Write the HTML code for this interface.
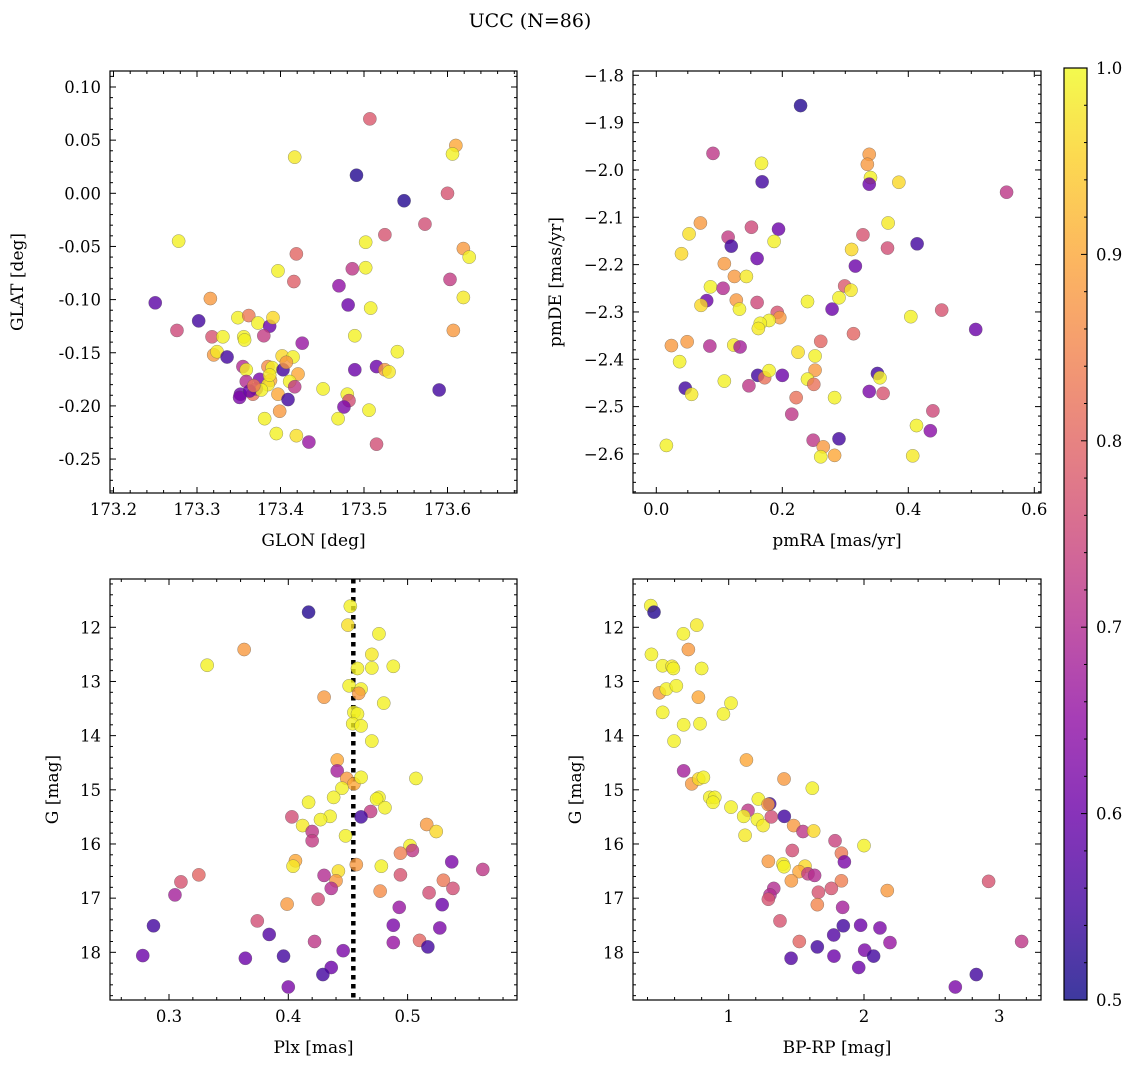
<!DOCTYPE html>
<html><head><meta charset="utf-8"><style>
html,body{margin:0;padding:0;background:#fff;}
svg{display:block;font-family:"DejaVu Serif","Liberation Serif",serif;}
</style></head><body>
<svg id="fig" width="1136" height="1068" viewBox="0 0 1136 1068">
<text x="530" y="27" text-anchor="middle" font-size="19">UCC (N=86)</text>
</svg>
<script>
// ---------- data ----------
const p1Glon=[173.507,173.610,173.606,173.417,173.491,173.548,173.600,173.573,173.525,173.502,173.278,173.619,173.626,173.419,173.397,173.502,173.486,173.416,173.603,173.470,173.619,173.316,173.250,173.481,173.508,173.302,173.276,173.607,173.349,173.362,173.373,173.387,173.391,173.318,173.331,173.356,173.357,173.380,173.426,173.489,173.540,173.320,173.324,173.336,173.402,173.415,173.355,173.359,173.385,173.390,173.403,173.407,173.421,173.411,173.417,173.489,173.515,173.525,173.530,173.590,173.359,173.375,173.388,173.385,173.352,173.351,173.367,173.371,173.377,173.397,173.409,173.451,173.480,173.482,173.476,173.399,173.506,173.381,173.469,173.395,173.419,173.434,173.515,173.363,173.368,173.387];
const p1Glat=[0.070,0.045,0.037,0.034,0.017,-0.007,0.000,-0.029,-0.039,-0.046,-0.045,-0.052,-0.060,-0.057,-0.073,-0.070,-0.071,-0.083,-0.081,-0.087,-0.098,-0.099,-0.103,-0.105,-0.108,-0.120,-0.129,-0.129,-0.117,-0.115,-0.122,-0.125,-0.117,-0.135,-0.135,-0.135,-0.138,-0.134,-0.141,-0.134,-0.149,-0.152,-0.149,-0.154,-0.153,-0.154,-0.163,-0.166,-0.163,-0.164,-0.166,-0.159,-0.170,-0.177,-0.182,-0.166,-0.163,-0.166,-0.168,-0.185,-0.177,-0.175,-0.176,-0.180,-0.189,-0.192,-0.189,-0.184,-0.185,-0.189,-0.194,-0.184,-0.189,-0.195,-0.201,-0.205,-0.204,-0.212,-0.212,-0.226,-0.228,-0.234,-0.236,-0.186,-0.181,-0.171];
const p1Prob=[0.78,0.9,0.99,0.98,0.52,0.52,0.77,0.76,0.77,0.99,0.99,0.88,0.99,0.8,0.99,0.99,0.72,0.79,0.73,0.65,0.98,0.88,0.58,0.6,0.99,0.55,0.75,0.88,0.99,0.83,0.99,0.6,0.96,0.77,0.99,0.99,0.99,0.73,0.66,0.99,0.99,0.88,0.98,0.55,0.96,0.99,0.7,0.99,0.86,0.99,0.55,0.88,0.9,0.99,0.72,0.6,0.6,0.88,0.98,0.55,0.7,0.62,0.9,0.98,0.6,0.62,0.82,0.68,0.99,0.9,0.55,0.99,0.99,0.76,0.62,0.88,0.99,0.99,0.99,0.99,0.97,0.66,0.76,0.6,0.83,0.98];

const p2Pmra=[0.229,0.090,0.167,0.168,0.338,0.335,0.340,0.338,0.385,0.556,0.070,0.052,0.040,0.151,0.194,0.114,0.119,0.187,0.160,0.108,0.124,0.143,0.086,0.106,0.080,0.071,0.127,0.132,0.160,0.192,0.196,0.179,0.165,0.162,0.240,0.279,0.299,0.309,0.290,0.310,0.316,0.328,0.368,0.367,0.414,0.404,0.453,0.507,0.024,0.049,0.085,0.123,0.133,0.037,0.225,0.252,0.261,0.313,0.046,0.056,0.108,0.147,0.161,0.172,0.179,0.200,0.252,0.240,0.250,0.351,0.355,0.338,0.360,0.222,0.283,0.215,0.439,0.413,0.435,0.249,0.290,0.265,0.261,0.283,0.407,0.016];
const p2Pmde=[-1.864,-1.965,-1.986,-2.025,-1.967,-1.988,-2.016,-2.030,-2.026,-2.047,-2.112,-2.135,-2.177,-2.121,-2.125,-2.142,-2.161,-2.151,-2.187,-2.198,-2.225,-2.225,-2.247,-2.250,-2.276,-2.286,-2.275,-2.294,-2.280,-2.301,-2.312,-2.318,-2.324,-2.335,-2.278,-2.294,-2.245,-2.254,-2.270,-2.168,-2.203,-2.137,-2.112,-2.165,-2.156,-2.310,-2.296,-2.337,-2.371,-2.363,-2.372,-2.370,-2.374,-2.405,-2.385,-2.393,-2.362,-2.346,-2.461,-2.474,-2.446,-2.456,-2.434,-2.439,-2.424,-2.434,-2.423,-2.442,-2.453,-2.430,-2.439,-2.468,-2.472,-2.481,-2.481,-2.516,-2.509,-2.540,-2.551,-2.571,-2.568,-2.585,-2.606,-2.603,-2.604,-2.582];
const p2Prob=[0.52,0.72,0.99,0.55,0.88,0.88,0.99,0.6,0.96,0.72,0.88,0.97,0.96,0.75,0.6,0.73,0.55,0.99,0.6,0.88,0.88,0.98,0.99,0.7,0.6,0.96,0.88,0.99,0.75,0.77,0.88,0.99,0.99,0.98,0.99,0.6,0.78,0.98,0.99,0.96,0.6,0.77,0.98,0.76,0.55,0.99,0.77,0.6,0.88,0.88,0.7,0.98,0.68,0.99,0.97,0.99,0.8,0.8,0.55,0.98,0.99,0.72,0.55,0.82,0.99,0.6,0.88,0.99,0.82,0.55,0.99,0.62,0.77,0.82,0.99,0.72,0.75,0.99,0.64,0.72,0.55,0.88,0.99,0.9,0.98,0.99];

const p3Plx=[0.417,0.452,0.450,0.476,0.363,0.332,0.470,0.458,0.470,0.488,0.451,0.461,0.459,0.430,0.480,0.455,0.458,0.454,0.461,0.470,0.441,0.441,0.449,0.455,0.461,0.507,0.445,0.438,0.417,0.476,0.474,0.481,0.469,0.461,0.435,0.427,0.403,0.412,0.420,0.420,0.448,0.516,0.524,0.502,0.504,0.494,0.537,0.563,0.406,0.404,0.457,0.478,0.442,0.430,0.440,0.436,0.494,0.530,0.538,0.518,0.477,0.325,0.310,0.305,0.399,0.425,0.493,0.529,0.374,0.287,0.488,0.527,0.384,0.422,0.488,0.510,0.517,0.278,0.364,0.396,0.446,0.436,0.429,0.400];
const p3G=[11.72,11.61,11.96,12.12,12.41,12.70,12.50,12.76,12.75,12.72,13.08,13.14,13.22,13.29,13.40,13.57,13.60,13.78,13.82,14.10,14.45,14.65,14.79,14.89,14.77,14.79,14.97,15.14,15.23,15.14,15.17,15.33,15.40,15.50,15.49,15.55,15.50,15.66,15.77,15.94,15.85,15.64,15.77,16.03,16.12,16.17,16.33,16.47,16.31,16.41,16.38,16.41,16.50,16.58,16.68,16.82,16.57,16.67,16.82,16.90,16.87,16.57,16.70,16.94,17.11,17.02,17.17,17.12,17.42,17.51,17.50,17.55,17.67,17.80,17.82,17.78,17.90,18.06,18.11,18.07,17.97,18.28,18.41,18.64];
const p3Prob=[0.52,0.99,0.97,0.99,0.88,0.99,0.98,0.99,0.99,0.99,0.99,0.99,0.88,0.88,0.99,0.99,0.99,0.99,0.99,0.99,0.9,0.68,0.88,0.9,0.99,0.99,0.99,0.99,0.99,0.99,0.99,0.99,0.73,0.55,0.99,0.99,0.76,0.98,0.72,0.73,0.99,0.88,0.96,0.99,0.72,0.84,0.62,0.72,0.9,0.98,0.88,0.99,0.97,0.7,0.88,0.7,0.77,0.83,0.76,0.76,0.86,0.8,0.77,0.68,0.88,0.76,0.66,0.6,0.76,0.55,0.62,0.62,0.57,0.72,0.66,0.8,0.55,0.6,0.6,0.55,0.62,0.6,0.55,0.62];
const plxLine=0.4545;

const p4Bprp=[0.424,0.448,0.764,0.665,0.702,0.429,0.512,0.581,0.591,0.800,0.488,0.539,0.613,0.776,1.017,0.961,0.512,0.667,0.788,0.596,1.131,0.667,0.727,0.778,0.813,1.409,1.618,0.860,0.897,0.884,1.017,1.219,1.303,1.291,1.143,1.111,1.212,1.254,1.315,1.411,1.480,1.549,1.628,1.121,1.786,2.000,1.470,1.833,1.855,1.293,1.401,1.409,1.564,1.520,1.586,1.635,1.463,1.833,2.172,2.921,1.333,1.305,1.293,1.663,1.759,1.655,1.842,1.379,1.847,1.975,2.118,1.776,1.522,2.192,3.165,1.655,1.461,1.778,2.005,2.071,1.961,2.830,2.675];
const p4G=[11.60,11.72,11.96,12.12,12.41,12.50,12.71,12.72,12.76,12.76,13.21,13.14,13.08,13.29,13.40,13.60,13.57,13.80,13.78,14.10,14.45,14.65,14.89,14.80,14.77,14.80,14.97,15.14,15.14,15.23,15.32,15.17,15.26,15.27,15.38,15.49,15.55,15.66,15.50,15.49,15.66,15.77,15.76,15.84,15.94,16.03,16.12,16.17,16.33,16.32,16.37,16.42,16.41,16.51,16.55,16.58,16.68,16.68,16.86,16.69,16.82,16.94,17.02,16.89,16.82,17.12,17.17,17.42,17.51,17.50,17.55,17.68,17.80,17.82,17.80,17.90,18.11,18.07,17.96,18.07,18.28,18.41,18.64];
const p4Prob=[0.99,0.52,0.98,0.99,0.88,0.99,0.99,0.98,0.99,0.99,0.88,0.99,0.99,0.9,0.99,0.99,0.99,0.99,0.99,0.99,0.9,0.68,0.88,0.96,0.99,0.88,0.99,0.99,0.99,0.99,0.99,0.99,0.55,0.88,0.72,0.99,0.99,0.98,0.76,0.55,0.88,0.72,0.96,0.98,0.74,0.99,0.76,0.83,0.62,0.88,0.98,0.99,0.96,0.9,0.73,0.7,0.88,0.84,0.88,0.77,0.7,0.7,0.77,0.77,0.77,0.85,0.68,0.77,0.55,0.6,0.62,0.57,0.8,0.66,0.72,0.55,0.57,0.6,0.62,0.55,0.6,0.55,0.62];

const xTicks1=[173.2,173.3,173.4,173.5,173.6];
const yTicks1=[0.10,0.05,0.00,-0.05,-0.10,-0.15,-0.20,-0.25];
const xTicks2=[0.0,0.2,0.4,0.6];
const yTicks2=[-1.8,-1.9,-2.0,-2.1,-2.2,-2.3,-2.4,-2.5,-2.6];
const xTicks3=[0.3,0.4,0.5];
const xTicks4=[1,2,3];
const gTicks=[12,13,14,15,16,17,18];
const cbTicks=[0.5,0.6,0.7,0.8,0.9,1.0];

// ---------- helpers ----------
const NS="http://www.w3.org/2000/svg";
const svg=document.getElementById('fig');
function mk(tag,attrs,parent){const e=document.createElementNS(NS,tag);for(const k in attrs)e.setAttribute(k,attrs[k]);(parent||svg).appendChild(e);return e;}
const stops=[[0,[13,8,135]],[0.1,[65,4,157]],[0.2,[106,0,168]],[0.3,[143,13,164]],[0.4,[177,42,144]],[0.5,[204,71,120]],[0.6,[225,100,98]],[0.7,[242,132,75]],[0.8,[252,166,54]],[0.9,[252,206,37]],[1,[240,249,33]]];
function plasma(t){t=Math.max(0,Math.min(1,t));for(let i=1;i<stops.length;i++){if(t<=stops[i][0]){const a=stops[i-1],b=stops[i];const f=(t-a[0])/(b[0]-a[0]);const c=a[1].map((v,j)=>Math.round(v+(b[1][j]-v)*f));return `rgb(${c[0]},${c[1]},${c[2]})`;}}return 'rgb(240,249,33)';}
function cnorm(p){return (p-0.5)/0.5;}

function panel(cfg){
  const g=mk('g',{});
  
  
  const {L,R,T,B}=cfg;
  const tg=mk('g',{stroke:'#000','stroke-width':1},g);
  for(let v=cfg.xMin;v<=cfg.xMax+1e-9;v+=cfg.xMinor){const x=cfg.sx(v);if(x<L-0.5||x>R+0.5)continue;
    const isMaj=cfg.xTicks.some(t=>Math.abs(t-v)<1e-6);const len=isMaj?6:3;
    mk('line',{x1:x,x2:x,y1:B,y2:B-len},tg);mk('line',{x1:x,x2:x,y1:T,y2:T+len},tg);}
  for(let v=cfg.yMin;v<=cfg.yMax+1e-9;v+=cfg.yMinor){const y=cfg.sy(v);if(y<T-0.5||y>B+0.5)continue;
    const isMaj=cfg.yTicks.some(t=>Math.abs(t-v)<1e-6);const len=isMaj?6:3;
    mk('line',{x1:L,x2:L+len,y1:y,y2:y},tg);mk('line',{x1:R,x2:R-len,y1:y,y2:y},tg);}
  cfg.xTicks.forEach(t=>{const e=mk('text',{x:cfg.sx(t),y:B+22,'text-anchor':'middle','font-size':16.5},g);e.textContent=cfg.xFmt(t);
    
    });
  cfg.yTicks.forEach(t=>{const e=mk('text',{x:L-9,y:cfg.sy(t)+6,'text-anchor':'end','font-size':16.5},g);e.textContent=cfg.yFmt(t);
    
    });
  const xl=mk('text',{x:(L+R)/2,y:B+53,'text-anchor':'middle','font-size':17},g);xl.textContent=cfg.xLabel;
  
  
  const yx=cfg.yLabelX;const yy=(T+B)/2;
  const yl=mk('text',{x:yx,y:yy,'text-anchor':'middle','font-size':17,transform:`rotate(-90 ${yx} ${yy})`},g);yl.textContent=cfg.yLabel;
  
  
  const cid='clip'+cfg.name;const cp=mk('clipPath',{id:cid},g);mk('rect',{x:L,y:T,width:R-L,height:B-T},cp);
  const pg=mk('g',{'clip-path':`url(#${cid})`},g);
  if(cfg.extra)cfg.extra(pg);
  cfg.xs.forEach((xv,i)=>{const c=mk('circle',{cx:cfg.sx(xv),cy:cfg.sy(cfg.ys[i]),r:6.6,fill:plasma(cnorm(cfg.ps[i])),'fill-opacity':0.8,stroke:'#555','stroke-opacity':0.6,'stroke-width':0.5},pg);
    
    });
  const fr=mk('rect',{x:L,y:T,width:R-L,height:B-T,fill:'none',stroke:'#000','stroke-width':1.2},g);
  
  
}

panel({name:'glon-glat-panel',L:110,R:517,T:71,B:493,
  sx:v=>113.5+(v-173.2)*835, sy:v=>87+(0.10-v)*1063,
  xMin:173.2,xMax:173.68,xMinor:0.02,yMin:-0.28,yMax:0.11,yMinor:0.01,
  xTicks:xTicks1,yTicks:yTicks1,xFmt:t=>t.toFixed(1),yFmt:t=>t.toFixed(2),
  xLabel:'GLON [deg]',yLabel:'GLAT [deg]',yLabelX:23,xs:p1Glon,ys:p1Glat,ps:p1Prob});
panel({name:'pmra-pmde-panel',L:633,R:1041,T:71,B:493,
  sx:v=>656.3+v*630, sy:v=>75.3+(-1.8-v)*473.3,
  xMin:-0.05,xMax:0.65,xMinor:0.05,yMin:-2.7,yMax:-1.78,yMinor:0.02,
  xTicks:xTicks2,yTicks:yTicks2,xFmt:t=>t.toFixed(1),yFmt:t=>'\u2212'+Math.abs(t).toFixed(1),
  xLabel:'pmRA [mas/yr]',yLabel:'pmDE [mas/yr]',yLabelX:561,xs:p2Pmra,ys:p2Pmde,ps:p2Prob});
panel({name:'plx-g-panel',L:110,R:517,T:579,B:1000,
  sx:v=>169+(v-0.3)*1193, sy:v=>627.3+(v-12)*54.17,
  xMin:0.24,xMax:0.6,xMinor:0.02,yMin:11,yMax:19,yMinor:0.2,
  xTicks:xTicks3,yTicks:gTicks,xFmt:t=>t.toFixed(1),yFmt:t=>String(t),
  xLabel:'Plx [mas]',yLabel:'G [mag]',yLabelX:58,xs:p3Plx,ys:p3G,ps:p3Prob,
  extra:pg=>{const x=169+(plxLine-0.3)*1193;const l=mk('line',{x1:x,x2:x,y1:579,y2:1000,stroke:'#000','stroke-width':4.5,'stroke-dasharray':'4.5 4.5'},pg);
    
    }});
panel({name:'color-magnitude-panel',L:633,R:1041,T:579,B:1000,
  sx:v=>728.7+(v-1)*135.3, sy:v=>627.3+(v-12)*54.17,
  xMin:0.2,xMax:3.4,xMinor:0.2,yMin:11,yMax:19,yMinor:0.2,
  xTicks:xTicks4,yTicks:gTicks,xFmt:t=>String(t),yFmt:t=>String(t),
  xLabel:'BP-RP [mag]',yLabel:'G [mag]',yLabelX:581,xs:p4Bprp,ys:p4G,ps:p4Prob});

(function(){
  const L=1064,R=1087,T=68,B=1000;
  const cb=mk('g',{});
  
  
  const defs=mk('defs',{},cb);const lg=mk('linearGradient',{id:'cbg',x1:0,y1:1,x2:0,y2:0},defs);
  for(let i=0;i<=20;i++){const t=i/20;mk('stop',{offset:t,'stop-color':plasma(t),'stop-opacity':0.8},lg);}
  mk('rect',{x:L,y:T,width:R-L,height:B-T,fill:'url(#cbg)'},cb);
  mk('rect',{x:L,y:T,width:R-L,height:B-T,fill:'none',stroke:'#000','stroke-width':1.2},cb);
  const sy=v=>B-(v-0.5)/0.5*(B-T);
  for(let v=0.5;v<=1.0001;v+=0.02){const y=sy(v);const maj=cbTicks.some(t=>Math.abs(t-v)<1e-6);
    mk('line',{x1:R,x2:R-(maj?6:3),y1:y,y2:y,stroke:'#000','stroke-width':1},cb);}
  cbTicks.forEach(t=>{const e=mk('text',{x:R+9,y:sy(t)+6,'font-size':16.5},cb);e.textContent=t.toFixed(1);
    
    });
})();
</script>
</body></html>
